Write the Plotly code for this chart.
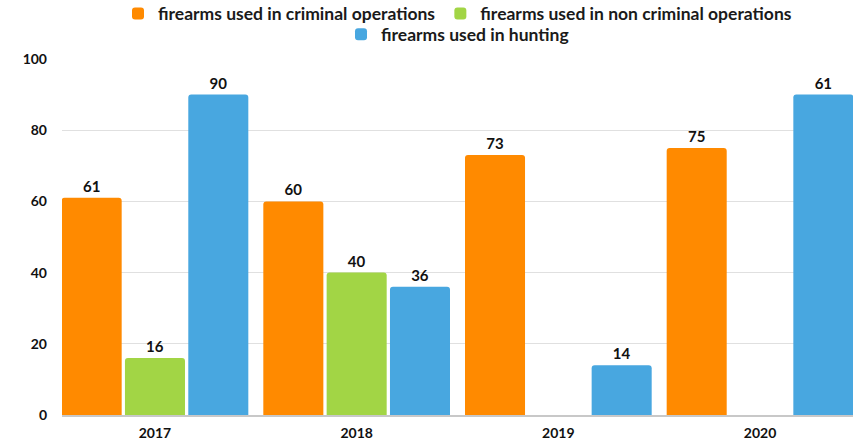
import plotly.graph_objects as go

years = ["2017", "2018", "2019", "2020"]
criminal = [61, 60, 73, 75]
non_criminal = [16, 40, None, None]
hunting = [90, 36, 14, 90]
criminal_labels = ["61", "60", "73", "75"]
non_criminal_labels = ["16", "40", "", ""]
hunting_labels = ["90", "36", "14", "61"]
y_ticks = [0, 20, 40, 60, 80, 100]

FONT = "Lato"
orange = "#ff8a00"
green = "#a2d545"
blue = "#48a7e0"

fig = go.Figure()
series = [
    ("firearms used in criminal operations", criminal, criminal_labels, orange, "legend"),
    ("firearms used in non criminal operations", non_criminal, non_criminal_labels, green, "legend"),
    ("firearms used in hunting", hunting, hunting_labels, blue, "legend2"),
]
for name, vals, labels, col, leg in series:
    fig.add_trace(go.Bar(
        x=years, y=vals, name=name, text=labels,
        textposition="outside", cliponaxis=False,
        textfont=dict(family=FONT, size=15, color="#111111", weight="bold"),
        marker=dict(color=col, line=dict(width=0), cornerradius=3),
        legend=leg,
    ))

legfont = dict(family=FONT, size=17.5, color="#1a1a1a", weight="bold")
fig.update_layout(
    width=858, height=441,
    margin=dict(l=62, r=5, t=59, b=26, autoexpand=False),
    paper_bgcolor="white", plot_bgcolor="white",
    barmode="group", bargap=0.058, bargroupgap=0.052,
    font=dict(family=FONT, color="#111111"),
    legend=dict(orientation="h", x=0.5, xanchor="center", y=1.178, yanchor="top",
                font=legfont, bgcolor="rgba(0,0,0,0)", tracegroupgap=0),
    legend2=dict(orientation="h", x=0.5, xanchor="center", y=1.12, yanchor="top",
                 font=legfont, bgcolor="rgba(0,0,0,0)"),
    showlegend=True,
)
fig.update_xaxes(
    type="category", range=[-0.461, 3.461],
    showgrid=False, showline=True, linecolor="#c8c8c8", linewidth=2,
    ticks="", ticklabelstandoff=4,
    tickfont=dict(family=FONT, size=14, color="#111111", weight="bold"),
)
fig.update_yaxes(
    range=[0, 100], tickvals=y_ticks,
    showgrid=True, gridcolor="#e0e0e0", gridwidth=1,
    zeroline=False, ticks="", ticklabelstandoff=14,
    tickfont=dict(family=FONT, size=14, color="#111111", weight="bold"),
)

fig.write_html("out.html")
